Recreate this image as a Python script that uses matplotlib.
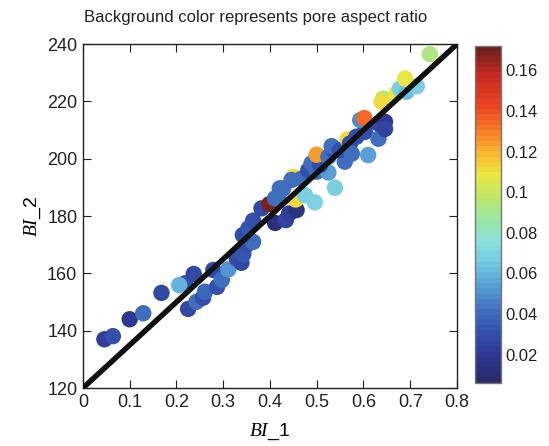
import numpy as np
import matplotlib
matplotlib.use("Agg")
import matplotlib.pyplot as plt
from matplotlib.colors import LinearSegmentedColormap, Normalize

plt.rcParams['font.family'] = ['Liberation Sans', 'DejaVu Sans']
plt.rcParams['mathtext.fontset'] = 'custom'
plt.rcParams['mathtext.it'] = 'Liberation Serif:italic'
plt.rcParams['mathtext.rm'] = 'Liberation Sans'

# ---- data ----
bi1 = [0.046, 0.064, 0.100, 0.129, 0.168, 0.218, 0.206, 0.237, 0.225, 0.243,
       0.257, 0.261, 0.279, 0.287, 0.297, 0.311, 0.329, 0.339, 0.343, 0.350,
       0.364, 0.342, 0.354, 0.364, 0.382, 0.399, 0.411, 0.418, 0.434, 0.441,
       0.457, 0.421, 0.455, 0.450, 0.475, 0.496, 0.539, 0.468, 0.446, 0.428,
       0.411, 0.482, 0.500, 0.525, 0.489, 0.507, 0.500, 0.525, 0.535, 0.560,
       0.532, 0.550, 0.566, 0.571, 0.575, 0.585, 0.603, 0.610, 0.632, 0.593,
       0.602, 0.632, 0.646, 0.646, 0.642, 0.639, 0.671, 0.678, 0.692, 0.714,
       0.689, 0.742]
bi2 = [137.0, 138.1, 144.0, 146.1, 153.2, 156.5, 155.9, 159.8, 147.6, 150.1,
       151.5, 153.6, 161.2, 155.3, 157.7, 161.4, 165.2, 163.7, 166.7, 169.9,
       171.0, 173.4, 175.7, 178.4, 182.7, 184.2, 177.6, 186.7, 178.6, 180.9,
       182.1, 189.7, 185.8, 193.7, 187.3, 184.8, 189.9, 193.1, 192.6, 189.6,
       186.2, 196.0, 195.5, 195.2, 198.4, 197.8, 201.4, 200.7, 203.2, 199.0,
       204.4, 203.0, 206.8, 205.3, 201.8, 207.7, 209.4, 201.3, 207.0, 213.5,
       214.2, 212.3, 212.9, 210.4, 221.0, 219.9, 222.8, 224.5, 223.4, 225.3,
       228.0, 236.5]
aspect = [0.022, 0.030, 0.020, 0.042, 0.028, 0.030, 0.060, 0.028, 0.028, 0.040,
          0.030, 0.038, 0.028, 0.030, 0.042, 0.052, 0.030, 0.028, 0.032, 0.030,
          0.042, 0.030, 0.032, 0.030, 0.028, 0.167, 0.012, 0.042, 0.026, 0.022,
          0.014, 0.042, 0.110, 0.110, 0.068, 0.070, 0.068, 0.042, 0.040, 0.040,
          0.042, 0.030, 0.042, 0.055, 0.040, 0.030, 0.125, 0.040, 0.030, 0.042,
          0.040, 0.030, 0.112, 0.030, 0.042, 0.030, 0.030, 0.055, 0.042, 0.050,
          0.135, 0.028, 0.020, 0.026, 0.095, 0.112, 0.108, 0.068, 0.062, 0.068,
          0.108, 0.092]

x_ticks = [0, 0.1, 0.2, 0.3, 0.4, 0.5, 0.6, 0.7, 0.8]
x_ticklabels = ['0', '0.1', '0.2', '0.3', '0.4', '0.5', '0.6', '0.7', '0.8']
y_ticks = [120, 140, 160, 180, 200, 220, 240]
cb_ticks = [0.02, 0.04, 0.06, 0.08, 0.1, 0.12, 0.14, 0.16]
cb_ticklabels = ['0.02', '0.04', '0.06', '0.08', '0.1', '0.12', '0.14', '0.16']
vmin, vmax = 0.006, 0.172
line_x = [0, 0.8]
line_y = [120, 240]

# ---- colormap ----
nodes = [
    (0.00, (0.17, 0.17, 0.42)),
    (0.08, (0.18, 0.22, 0.58)),
    (0.15, (0.20, 0.32, 0.68)),
    (0.22, (0.26, 0.46, 0.76)),
    (0.30, (0.36, 0.66, 0.85)),
    (0.36, (0.47, 0.80, 0.89)),
    (0.42, (0.55, 0.88, 0.86)),
    (0.48, (0.60, 0.90, 0.66)),
    (0.55, (0.74, 0.90, 0.42)),
    (0.62, (0.93, 0.90, 0.26)),
    (0.68, (0.97, 0.73, 0.20)),
    (0.75, (0.96, 0.50, 0.15)),
    (0.82, (0.92, 0.28, 0.13)),
    (0.92, (0.78, 0.16, 0.13)),
    (1.00, (0.42, 0.12, 0.12)),
]
cmap = LinearSegmentedColormap.from_list('poremap', nodes, N=64)
norm = Normalize(vmin=vmin, vmax=vmax)

fig = plt.figure(figsize=(5.49, 4.46), dpi=100)
ax = fig.add_axes([0.151, 0.130, 0.6814, 0.771])

sc = ax.scatter(bi1, bi2, c=aspect, cmap=cmap, norm=norm, s=140,
                edgecolors='none', zorder=2)
ax.plot(line_x, line_y, color='#111111', lw=3.9, zorder=3,
        solid_capstyle='butt')

ax.set_xlim(0, 0.8)
ax.set_ylim(120, 240)
ax.set_xticks(x_ticks)
ax.set_xticklabels(x_ticklabels)
ax.set_yticks(y_ticks)
ax.tick_params(direction='in', top=True, right=True, length=6, width=0.8,
               labelsize=13, colors='#222222', pad=4)
for sp in ax.spines.values():
    sp.set_linewidth(1.0)
    sp.set_color('#222222')

ax.set_xlabel(r'$\mathit{BI\_}\mathrm{1}$', fontsize=14, labelpad=8)
ax.set_ylabel(r'$\mathit{BI\_}\mathrm{2}$', fontsize=14, labelpad=3)
ax.set_title('Background color represents pore aspect ratio', fontsize=12,
             pad=16, color='#222222', x=0.463)

cax = fig.add_axes([0.865, 0.141, 0.0475, 0.756])
cb = fig.colorbar(sc, cax=cax)
cb.set_ticks(cb_ticks)
cb.set_ticklabels(cb_ticklabels)
cb.ax.tick_params(length=0, labelsize=12, colors='#222222', pad=3)
cb.outline.set_edgecolor('#777777')
cb.outline.set_linewidth(1.0)

fig.savefig('out.png', dpi=100)
